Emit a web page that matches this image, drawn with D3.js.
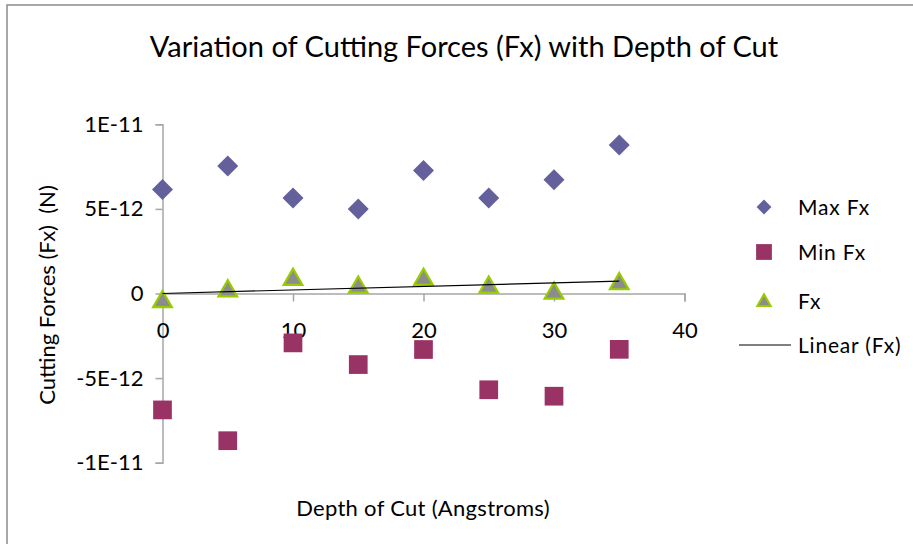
<!DOCTYPE html>
<html>
<head>
<meta charset="utf-8">
<script src="https://cdn.jsdelivr.net/npm/d3@7"></script>
<style>
  body { margin: 0; background: #fff; }
  text { font-family: Lato, "Open Sans", sans-serif; fill: #000; }
</style>
</head>
<body>
<script>
// depth of cut (angstroms)
const depths = [0, 5, 10, 15, 20, 25, 30, 35];
// cutting forces in N
const maxFx = [6.15e-12, 7.53e-12, 5.65e-12, 5.0e-12, 7.27e-12, 5.65e-12, 6.72e-12, 8.78e-12];
const minFx = [-6.88e-12, -8.70e-12, -2.92e-12, -4.2e-12, -3.31e-12, -5.69e-12, -6.07e-12, -3.30e-12];
const fx = [-0.40e-12, 0.24e-12, 0.92e-12, 0.46e-12, 0.92e-12, 0.46e-12, 0.11e-12, 0.66e-12];

const xTicks = [0, 10, 20, 30, 40];
const yTicks = [1e-11, 5e-12, 0, -5e-12, -1e-11];
const yTickLabels = ['1E-11', '5E-12', '0', '-5E-12', '-1E-11'];

const legendNames = ['Max Fx', 'Min Fx', 'Fx', 'Linear (Fx)'];

const width = 913, height = 544;

let svg = d3.select('body').append('svg')
    .attr('width', width)
    .attr('height', height);

// chart frame
svg.append('rect')
    .attr('x', 7).attr('y', 5)
    .attr('width', width).attr('height', height)
    .attr('fill', 'none')
    .attr('stroke', '#8c8c8c')
    .attr('stroke-width', 1.5);

let x = d3.scaleLinear().domain([0, 40]).range([162.5, 684.5]);
let y = d3.scaleLinear().domain([-1e-11, 1e-11]).range([462.7, 124.3]);

// title
svg.append('text')
    .attr('x', 464).attr('y', 57)
    .attr('text-anchor', 'middle')
    .style('font-size', '29px')
    .text('Variation of Cutting Forces (Fx) with Depth of Cut');

// y axis
let yAxis = svg.append('g')
    .attr('transform', `translate(${x(0)},0)`)
    .call(d3.axisLeft(y).tickValues(yTicks).tickSize(7).tickFormat((d, i) => yTickLabels[i]));
yAxis.select('.domain').attr('stroke', '#a6a6a6').attr('stroke-width', 1.5);
yAxis.selectAll('.tick line').attr('stroke', '#a6a6a6').attr('stroke-width', 1.5);
yAxis.selectAll('.tick text')
    .attr('x', -19)
    .style('font-family', 'Lato, sans-serif')
    .style('font-size', '22px')
    .attr('fill', '#000');

// x axis, crossing at zero
let xAxis = svg.append('g')
    .attr('transform', `translate(0,${y(0)})`)
    .call(d3.axisBottom(x).tickValues(xTicks).tickSize(8).tickSizeOuter(8));
xAxis.select('.domain').attr('stroke', '#a6a6a6').attr('stroke-width', 1.5);
xAxis.selectAll('.tick line').attr('stroke', '#a6a6a6').attr('stroke-width', 1.5);
xAxis.selectAll('.tick text')
    .attr('y', 29)
    .style('font-family', 'Lato, sans-serif')
    .style('font-size', '22px')
    .attr('fill', '#000');

// axis titles
svg.append('text')
    .attr('x', 423).attr('y', 516)
    .attr('text-anchor', 'middle')
    .style('font-size', '22px')
    .style('letter-spacing', '0.3px')
    .text('Depth of Cut (Angstroms)');

svg.append('text')
    .attr('transform', 'translate(55,295) rotate(-90)')
    .attr('text-anchor', 'middle')
    .style('font-size', '22px')
    .style('white-space', 'pre')
    .text('Cutting Forces (Fx)  (N)');

const diamond = d3.symbol().type(d3.symbolDiamond2).size(280);
const square = d3.symbol().type(d3.symbolSquare).size(350);
const triangle = d3.symbol().type(d3.symbolTriangle2).size(250);

const plot = svg.append('g');

plot.selectAll('.max')
    .data(depths)
    .enter()
    .append('path')
    .attr('class', 'max')
    .attr('d', diamond)
    .attr('transform', (d, i) => `translate(${x(d)},${y(maxFx[i])})`)
    .attr('fill', '#63609c');

plot.selectAll('.min')
    .data(depths)
    .enter()
    .append('path')
    .attr('class', 'min')
    .attr('d', square)
    .attr('transform', (d, i) => `translate(${x(d)},${y(minFx[i])})`)
    .attr('fill', '#993366');

// linear trend through the origin (least squares)
const slope = d3.sum(depths, (d, i) => d * fx[i]) / d3.sum(depths, (d) => d * d);
const trendX = d3.extent(depths);

plot.selectAll('.fx')
    .data(depths)
    .enter()
    .append('path')
    .attr('class', 'fx')
    .attr('d', triangle)
    .attr('transform', (d, i) => `translate(${x(d)},${y(fx[i]) + 1.5})`)
    .attr('fill', '#8c8c8c')
    .attr('stroke', '#99cc00')
    .attr('stroke-width', 2.2);

plot.append('path')
    .datum(trendX)
    .attr('d', d3.line().x((d) => x(d)).y((d) => y(slope * d)))
    .attr('stroke', '#000')
    .attr('stroke-width', 1.2)
    .attr('fill', 'none');

// legend
const legendY = [207, 252, 301, 345];
let legend = svg.append('g');

legend.append('path')
    .attr('d', d3.symbol().type(d3.symbolDiamond2).size(140))
    .attr('transform', `translate(764,${legendY[0]})`)
    .attr('fill', '#63609c');
legend.append('path')
    .attr('d', d3.symbol().type(d3.symbolSquare).size(250))
    .attr('transform', `translate(764,${legendY[1]})`)
    .attr('fill', '#993366');
legend.append('path')
    .attr('d', d3.symbol().type(d3.symbolTriangle2).size(130))
    .attr('transform', `translate(764,${legendY[2] + 1})`)
    .attr('fill', '#8c8c8c')
    .attr('stroke', '#99cc00')
    .attr('stroke-width', 2);
legend.append('line')
    .attr('x1', 739).attr('x2', 791)
    .attr('y1', legendY[3]).attr('y2', legendY[3])
    .attr('stroke', '#000')
    .attr('stroke-width', 1.2);

legend.selectAll('text')
    .data(legendNames)
    .enter()
    .append('text')
    .attr('x', 798)
    .attr('y', (d, i) => legendY[i] + 8)
    .style('font-size', '21px')
    .style('letter-spacing', '0.8px')
    .text((d) => d);
</script>
</body>
</html>
